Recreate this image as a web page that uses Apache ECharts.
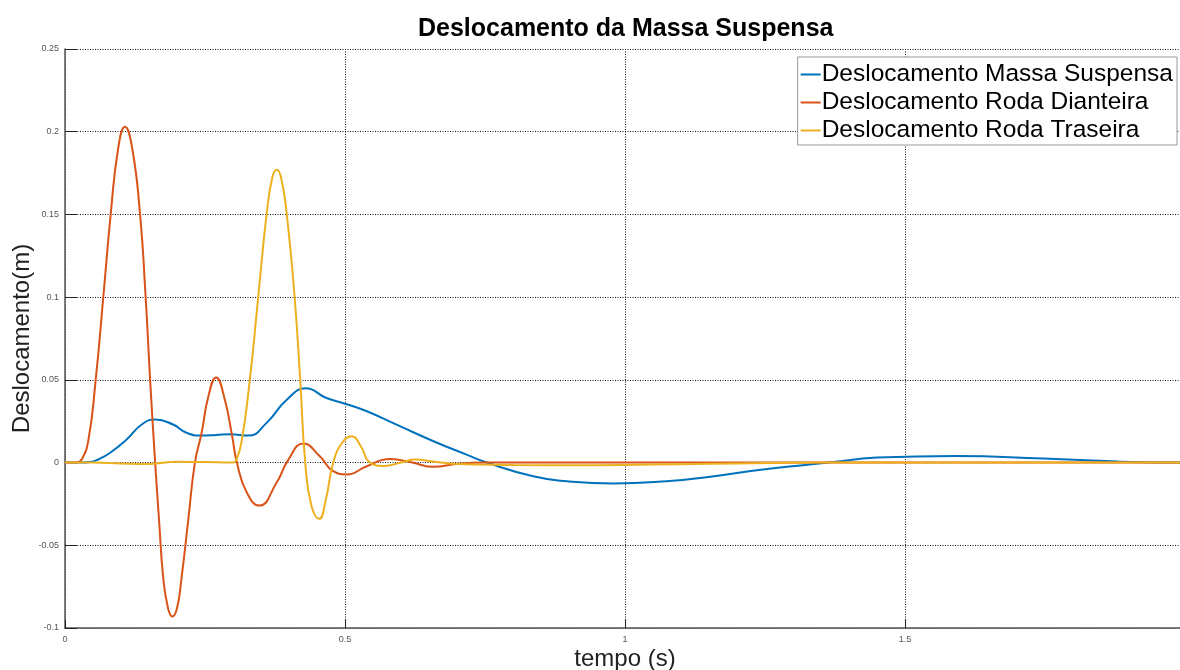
<!DOCTYPE html>
<html>
<head>
<meta charset="utf-8">
<title>Deslocamento da Massa Suspensa</title>
<script src="https://cdn.jsdelivr.net/npm/echarts@6/dist/echarts.min.js"></script>
<style>
  html, body { margin: 0; padding: 0; background: #fff; }
  #chart { width: 1180px; height: 670px; }
</style>
</head>
<body>
<div id="chart"></div>
<script>
// Series names (legend order)
const seriesNames = [
  'Deslocamento Massa Suspensa',
  'Deslocamento Roda Dianteira',
  'Deslocamento Roda Traseira'
];

// Sprung mass displacement (m) vs time (s)
const tMassa = [0, 0.03, 0.045, 0.06, 0.08, 0.11, 0.137, 0.161, 0.193, 0.217, 0.244, 0.27, 0.295, 0.327, 0.36, 0.396, 0.43, 0.467, 0.5, 0.539, 0.598, 0.658, 0.717, 0.753, 0.836, 0.896, 0.979, 1.074, 1.152, 1.25, 1.364, 1.45, 1.59, 1.747, 1.88, 1.946, 2.0];
const yMassa = [0, 0, 0.0003, 0.002, 0.0058, 0.0139, 0.023, 0.026, 0.023, 0.018, 0.0163, 0.0167, 0.0171, 0.0163, 0.024, 0.038, 0.0449, 0.039, 0.0356, 0.031, 0.022, 0.0129, 0.0048, 0, -0.0083, -0.0113, -0.0127, -0.0113, -0.0085, -0.004, 0, 0.003, 0.004, 0.0024, 0.0006, 0, 0];

// Front wheel displacement (m) vs time (s)
const tDianteira = [0, 0.02, 0.03, 0.042, 0.0548, 0.0684, 0.0816, 0.095, 0.107, 0.12, 0.134, 0.144, 0.152, 0.161, 0.168, 0.1755, 0.184, 0.1916, 0.2, 0.208, 0.22, 0.232, 0.244, 0.256, 0.27, 0.284, 0.298, 0.307, 0.3245, 0.347, 0.378, 0.399, 0.4256, 0.455, 0.479, 0.503, 0.539, 0.58, 0.62, 0.658, 0.7, 0.75, 1.0, 1.5, 2.0];
const yDianteira = [0, 0, 0.002, 0.014, 0.05, 0.1, 0.15, 0.19, 0.203, 0.19, 0.15, 0.1, 0.05, 0, -0.035, -0.07, -0.088, -0.093, -0.088, -0.07, -0.035, 0, 0.018, 0.04, 0.0515, 0.04, 0.017, 0, -0.018, -0.026, -0.012, 0.0018, 0.0115, 0.0038, -0.0052, -0.0072, -0.0022, 0.0022, 0, -0.0026, -0.0008, 0, 0, 0, 0];

// Rear wheel displacement (m) vs time (s)
const tTraseira = [0, 0.05, 0.1, 0.15, 0.2, 0.25, 0.3, 0.305, 0.315, 0.33, 0.345, 0.36, 0.37, 0.378, 0.386, 0.396, 0.41, 0.42, 0.429, 0.44, 0.454, 0.466, 0.479, 0.495, 0.512, 0.528, 0.545, 0.57, 0.6, 0.625, 0.66, 0.7, 0.8, 0.9, 1.0, 1.1, 1.2, 1.35, 2.0];
const yTraseira = [0, 0, -0.0005, -0.0008, 0.0005, 0.0003, 0, 0.001, 0.012, 0.05, 0.1, 0.15, 0.172, 0.177, 0.172, 0.15, 0.1, 0.05, 0, -0.026, -0.034, -0.022, 0, 0.012, 0.0159, 0.01, 0, -0.002, 0, 0.0018, 0.0005, -0.0008, -0.0014, -0.0016, -0.0014, -0.001, -0.0005, 0, 0];

// Axis tick settings
const xTicks = { min: 0, max: 2, interval: 0.5 };
const yTicks = { min: -0.1, max: 0.25, interval: 0.05 };

const seriesColors = ['#0072BD', '#D95319', '#EDB120'];

function pairs(t, y) {
  return t.map((v, i) => [v, y[i]]);
}

const chart = echarts.init(document.getElementById('chart'), null, { renderer: 'canvas' });

const dotted = { type: [1, 1.5], color: '#111', width: 1 };
const font = 'Liberation Sans, Arial, Helvetica, sans-serif';

chart.setOption({
  animation: false,
  backgroundColor: '#fff',
  title: {
    text: 'Deslocamento da Massa Suspensa',
    left: 413,
    top: 12,
    textStyle: { fontFamily: font, fontWeight: 'bold', fontSize: 25, color: '#000' }
  },
  legend: {
    orient: 'vertical',
    right: 3,
    top: 57,
    padding: [5, 4, 2, 3],
    itemGap: 3,
    itemWidth: 20,
    itemHeight: 2,
    icon: 'rect',
    backgroundColor: '#fff',
    borderColor: '#999',
    borderWidth: 1,
    borderRadius: 0,
    textStyle: { fontFamily: font, fontSize: 24.5, color: '#000', padding: [0, 0, 0, -4] },
    data: seriesNames
  },
  grid: { left: 65, top: 49, width: 1120, height: 579, containLabel: false, outerBoundsMode: 'none' },
  xAxis: {
    type: 'value',
    min: xTicks.min,
    max: xTicks.max,
    interval: xTicks.interval,
    name: 'tempo (s)',
    nameLocation: 'middle',
    nameGap: 19,
    nameMoveOverlap: false,
    nameTextStyle: { fontFamily: font, fontSize: 24, color: '#222' },
    axisLine: { show: true, onZero: false, lineStyle: { color: '#555', width: 1.5 } },
    axisTick: { show: true, inside: true, length: 8, lineStyle: { color: '#222', width: 1 } },
    axisLabel: { fontFamily: font, fontSize: 9, color: '#555', margin: 7, showMaxLabel: false },
    splitLine: { show: true, lineStyle: dotted }
  },
  yAxis: {
    type: 'value',
    min: yTicks.min,
    max: yTicks.max,
    interval: yTicks.interval,
    name: 'Deslocamento(m)',
    nameLocation: 'middle',
    nameGap: 31,
    nameMoveOverlap: false,
    nameRotate: 90,
    nameTextStyle: { fontFamily: font, fontSize: 24, color: '#222' },
    axisLine: { show: true, onZero: false, lineStyle: { color: '#555', width: 1.5 } },
    axisTick: { show: true, inside: true, length: 12, lineStyle: { color: '#222', width: 1 } },
    axisLabel: { fontFamily: font, fontSize: 9, color: '#555', margin: 6 },
    splitLine: { show: true, lineStyle: dotted }
  },
  series: [
    { name: seriesNames[0], data: pairs(tMassa, yMassa), color: seriesColors[0] },
    { name: seriesNames[1], data: pairs(tDianteira, yDianteira), color: seriesColors[1] },
    { name: seriesNames[2], data: pairs(tTraseira, yTraseira), color: seriesColors[2] }
  ].map(s => Object.assign({
    type: 'line',
    smooth: 0.5,
    showSymbol: false,
    symbol: 'none',
    lineStyle: { width: 2, color: s.color },
    itemStyle: { color: s.color }
  }, s))
});
</script>
</body>
</html>
